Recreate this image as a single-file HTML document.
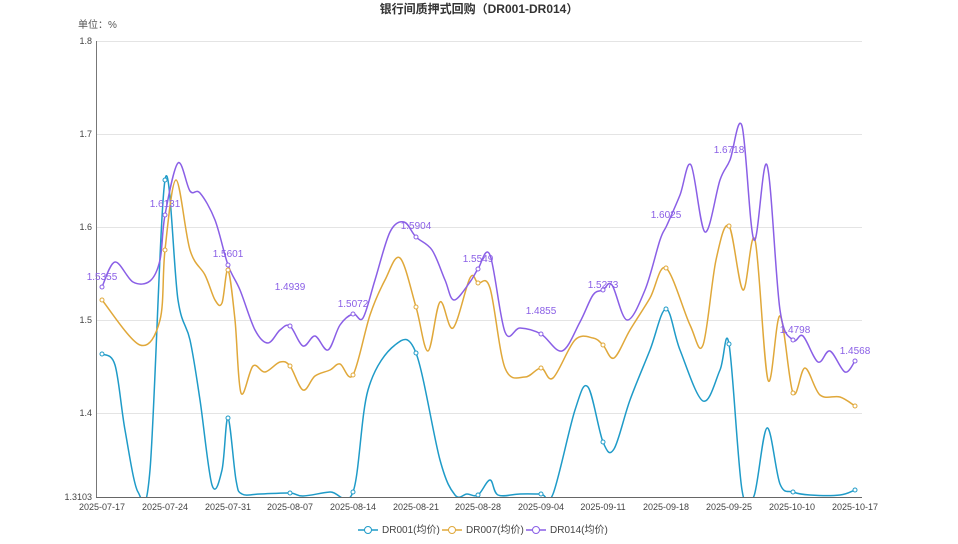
<!DOCTYPE html>
<html><head><meta charset="utf-8"><style>
body{margin:0;background:#fff;width:958px;height:539px;overflow:hidden;font-family:"Liberation Sans","Noto Sans CJK SC",sans-serif}
</style></head><body>
<svg id="s" width="958" height="539" xmlns="http://www.w3.org/2000/svg" font-family="Liberation Sans, Noto Sans CJK SC, sans-serif">
<defs><clipPath id="c"><rect x="96" y="30" width="770" height="467"/></clipPath></defs>
<text x="479" y="13" text-anchor="middle" font-size="12" font-weight="bold" fill="#333">银行间质押式回购（DR001-DR014）</text>
<text x="78" y="28" font-size="10" fill="#555">单位：%</text>
<g stroke="#e4e4e4" stroke-width="1">
<line x1="96" x2="862" y1="41.5" y2="41.5"/><line x1="96" x2="862" y1="134.5" y2="134.5"/>
<line x1="96" x2="862" y1="227.5" y2="227.5"/><line x1="96" x2="862" y1="320.5" y2="320.5"/>
<line x1="96" x2="862" y1="413.5" y2="413.5"/>
</g>
<line x1="96.5" x2="96.5" y1="41" y2="497" stroke="#777"/>
<line x1="96" x2="862" y1="497.5" y2="497.5" stroke="#666"/>
<g font-size="9" fill="#444" text-anchor="end">
<text x="92" y="44">1.8</text><text x="92" y="137">1.7</text><text x="92" y="230">1.6</text>
<text x="92" y="323">1.5</text><text x="92" y="416">1.4</text><text x="92" y="500">1.3103</text>
</g>
<g font-size="9" fill="#444" text-anchor="middle">
<text x="102" y="510">2025-07-17</text><text x="165" y="510">2025-07-24</text><text x="228" y="510">2025-07-31</text>
<text x="290" y="510">2025-08-07</text><text x="353" y="510">2025-08-14</text><text x="416" y="510">2025-08-21</text>
<text x="478" y="510">2025-08-28</text><text x="541" y="510">2025-09-04</text><text x="603" y="510">2025-09-11</text>
<text x="666" y="510">2025-09-18</text><text x="729" y="510">2025-09-25</text><text x="792" y="510">2025-10-10</text>
<text x="855" y="510">2025-10-17</text>
</g>
<g id="lines" clip-path="url(#c)"></g>
<g font-size="10" fill="#8a5fe6" text-anchor="middle">
<text x="102" y="280">1.5355</text><text x="165" y="207">1.6131</text><text x="228" y="257">1.5601</text>
<text x="290" y="290">1.4939</text><text x="353" y="307">1.5072</text><text x="416" y="229">1.5904</text>
<text x="478" y="262">1.5549</text><text x="541" y="314">1.4855</text><text x="603" y="288">1.5273</text>
<text x="666" y="218">1.6025</text><text x="729" y="153">1.6718</text><text x="795" y="333">1.4798</text>
<text x="855" y="354">1.4568</text>
</g>
<g font-size="10" fill="#444">
<line x1="358" x2="378" y1="530" y2="530" stroke="#1f9bc8" stroke-width="1.5"/><circle cx="368" cy="530" r="3.5" fill="#fff" stroke="#1f9bc8"/>
<text x="382" y="533">DR001(均价)</text>
<line x1="442" x2="462" y1="530" y2="530" stroke="#e0a83a" stroke-width="1.5"/><circle cx="452" cy="530" r="3.5" fill="#fff" stroke="#e0a83a"/>
<text x="466" y="533">DR007(均价)</text>
<line x1="526" x2="546" y1="530" y2="530" stroke="#8a5fe6" stroke-width="1.5"/><circle cx="536" cy="530" r="3.5" fill="#fff" stroke="#8a5fe6"/>
<text x="550" y="533">DR014(均价)</text>
</g>
</svg>
<script>
var P=[[102,287],[115,262],[133,282],[150,281],[160,260],[165,215],[178,163],[190,191],[200,193],[215,220],[228,265],[240,290],[255,330],[268,343],[280,330],[290,326],[303,346],[315,336],[328,350],[340,325],[353,314],[363,318],[375,280],[390,232],[404,222],[416,237],[432,250],[445,280],[454,300],[470,282],[478,269],[490,255],[505,332],[520,328],[541,334],[562,351],[580,322],[593,295],[603,290],[612,285],[627,320],[645,290],[660,240],[667,225],[680,195],[691,165],[705,232],[720,180],[730,160],[742,126],[754,240],[767,165],[780,310],[793,340],[803,336],[818,362],[830,351],[845,372],[855,361]];
var O=[[102,300],[140,345],[160,320],[165,250],[176,180],[190,250],[205,275],[215,300],[222,303],[228,270],[235,320],[241,393],[253,366],[265,372],[280,362],[290,366],[303,390],[315,376],[330,370],[340,364],[353,375],[370,315],[385,280],[400,258],[416,307],[428,351],[440,302],[453,328],[470,278],[478,283],[490,288],[505,368],[525,377],[541,368],[553,378],[575,340],[593,338],[603,345],[614,358],[630,330],[650,298],[666,268],[690,325],[703,345],[716,260],[729,226],[743,290],[755,240],[768,380],[780,316],[793,393],[805,368],[820,395],[840,397],[855,406]];
var B=[[102,354],[115,365],[125,430],[138,492],[150,470],[165,180],[178,300],[190,340],[200,400],[212,485],[222,470],[228,418],[236,480],[242,494],[260,494],[290,493],[303,496],[330,492],[353,492],[368,390],[395,345],[416,353],[440,460],[455,495],[467,494],[478,495],[490,480],[498,495],[520,494],[541,494],[553,494],[575,410],[588,387],[603,442],[614,449],[630,400],[650,350],[666,309],[680,350],[703,401],[720,370],[729,344],[742,490],[754,496],[767,428],[780,484],[793,492],[810,495],[840,495],[855,490]];
function path(p){var d="M"+p[0][0]+","+p[0][1];for(var i=0;i<p.length-1;i++){var a=p[i-1]||p[i],b=p[i],c=p[i+1],e=p[i+2]||c;var t=0.5/3;
d+=" C"+(b[0]+(c[0]-a[0])*t)+","+(b[1]+(c[1]-a[1])*t)+" "+(c[0]-(e[0]-b[0])*t)+","+(c[1]-(e[1]-b[1])*t)+" "+c[0]+","+c[1];}return d;}
var g=document.getElementById("lines"),h="";
[[B,"#1f9bc8"],[O,"#e0a83a"],[P,"#8a5fe6"]].forEach(function(s){h+='<path d="'+path(s[0])+'" fill="none" stroke="'+s[1]+'" stroke-width="1.5"/>';});
var M=[102,165,228,290,353,416,478,541,603,666,729,793,855];
[[B,"#1f9bc8"],[O,"#e0a83a"],[P,"#8a5fe6"]].forEach(function(s){s[0].forEach(function(q){if(M.indexOf(q[0])>=0)h+='<circle cx="'+q[0]+'" cy="'+q[1]+'" r="2" fill="#fff" stroke="'+s[1]+'"/>';});});
g.innerHTML=h;
</script>
</body></html>
